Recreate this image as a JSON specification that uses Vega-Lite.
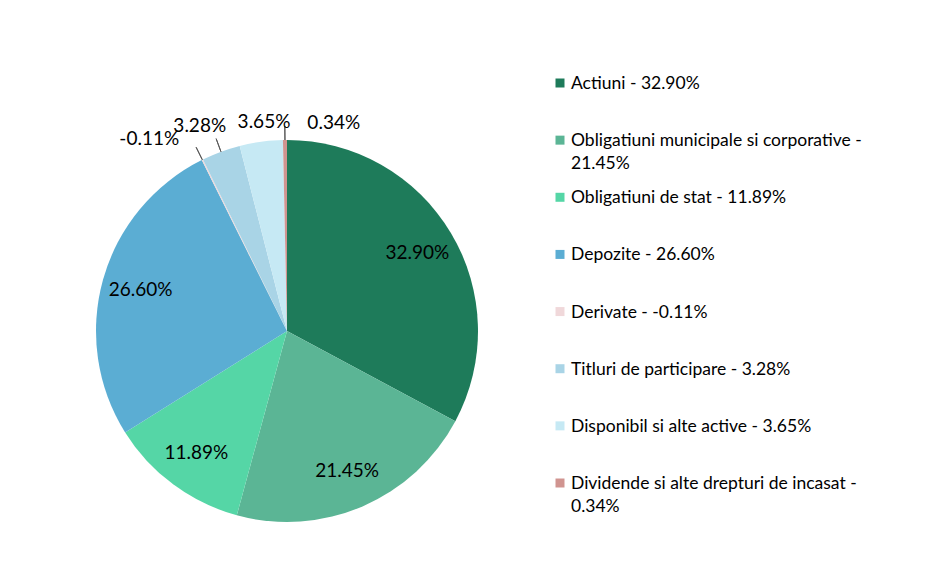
{
  "$schema": "https://vega.github.io/schema/vega-lite/v6.json",
  "padding": {"left": 47, "top": 75, "right": 0, "bottom": 0},
  "background": "white",
  "config": {"view": {"stroke": null}, "font": "Lato", "text": {"color": "#000000"}},
  "datasets": {
    "d": [
      {"order": 1, "name": "Actiuni", "value": 32.90, "size": 32.90, "label": "32.90%", "legend": "Actiuni - 32.90%"},
      {"order": 2, "name": "Obligatiuni municipale si corporative", "value": 21.45, "size": 21.45, "label": "21.45%", "legend": "Obligatiuni municipale si corporative -\n21.45%"},
      {"order": 3, "name": "Obligatiuni de stat", "value": 11.89, "size": 11.89, "label": "11.89%", "legend": "Obligatiuni de stat - 11.89%"},
      {"order": 4, "name": "Depozite", "value": 26.60, "size": 26.60, "label": "26.60%", "legend": "Depozite - 26.60%"},
      {"order": 5, "name": "Derivate", "value": -0.11, "size": 0.11, "label": "-0.11%", "legend": "Derivate - -0.11%"},
      {"order": 6, "name": "Titluri de participare", "value": 3.28, "size": 3.28, "label": "3.28%", "legend": "Titluri de participare - 3.28%"},
      {"order": 7, "name": "Disponibil si alte active", "value": 3.65, "size": 3.65, "label": "3.65%", "legend": "Disponibil si alte active - 3.65%"},
      {"order": 8, "name": "Dividende si alte drepturi de incasat", "value": 0.34, "size": 0.34, "label": "0.34%", "legend": "Dividende si alte drepturi de incasat -\n0.34%"}
    ]
  },
  "data": {"name": "d"},
  "spacing": 28,
  "hconcat": [
    {
      "width": 480,
      "height": 500,
      "encoding": {
        "theta": {"field": "size", "type": "quantitative", "stack": true},
        "order": {"field": "order", "type": "quantitative"}
      },
      "layer": [
        {
          "mark": {"type": "arc", "radius": 191},
          "encoding": {
            "color": {
              "field": "name", "type": "nominal", "legend": null,
              "scale": {
                "domain": ["Actiuni", "Obligatiuni municipale si corporative", "Obligatiuni de stat", "Depozite", "Derivate", "Titluri de participare", "Disponibil si alte active", "Dividende si alte drepturi de incasat"],
                "range": ["#1E7B5A", "#5BB595", "#55D6A6", "#5BADD3", "#F0D8DA", "#A9D4E6", "#C6E9F4", "#D09490"]
              }
            }
          }
        },
        {
          "mark": {"type": "arc", "radius": 205, "radius2": 191, "padAngle": 1.5, "fill": "transparent", "strokeWidth": 1},
          "encoding": {
            "stroke": {"condition": {"test": "datum.order == 5 || datum.order == 6 || datum.order == 8", "value": "#595959"}, "value": "transparent"}
          }
        },
        {
          "mark": {"type": "text", "fontSize": 19, "align": "center", "baseline": "middle", "radius": 152},
          "encoding": {"text": {"condition": {"test": "datum.size > 5", "field": "label"}, "value": ""}}
        },
        {
          "mark": {"type": "text", "fontSize": 19, "align": "center", "baseline": "middle", "radius": 236, "thetaOffset": -0.164},
          "encoding": {"text": {"condition": {"test": "datum.order == 5", "field": "label"}, "value": ""}}
        },
        {
          "mark": {"type": "text", "fontSize": 19, "align": "center", "baseline": "middle", "radius": 223, "thetaOffset": -0.049},
          "encoding": {"text": {"condition": {"test": "datum.order == 6", "field": "label"}, "value": ""}}
        },
        {
          "mark": {"type": "text", "fontSize": 19, "align": "center", "baseline": "middle", "radius": 210, "thetaOffset": 0.026},
          "encoding": {"text": {"condition": {"test": "datum.order == 7", "field": "label"}, "value": ""}}
        },
        {
          "mark": {"type": "text", "fontSize": 19, "align": "center", "baseline": "middle", "radius": 213, "thetaOffset": 0.232},
          "encoding": {"text": {"condition": {"test": "datum.order == 8", "field": "label"}, "value": ""}}
        }
      ]
    },
    {
      "width": 330,
      "height": 404,
      "encoding": {
        "y": {"field": "name", "type": "nominal", "sort": {"field": "order", "op": "min"}, "scale": {"type": "point", "padding": 0.035}, "axis": null},
        "x": {"datum": 0, "type": "quantitative", "scale": {"domain": [0, 1]}, "axis": null}
      },
      "layer": [
        {
          "mark": {"type": "square", "size": 81, "opacity": 1, "filled": true},
          "encoding": {
            "color": {
              "field": "name", "type": "nominal", "legend": null,
              "scale": {
                "domain": ["Actiuni", "Obligatiuni municipale si corporative", "Obligatiuni de stat", "Depozite", "Derivate", "Titluri de participare", "Disponibil si alte active", "Dividende si alte drepturi de incasat"],
                "range": ["#1E7B5A", "#5BB595", "#55D6A6", "#5BADD3", "#F0D8DA", "#A9D4E6", "#C6E9F4", "#D09490"]
              }
            }
          }
        },
        {
          "mark": {"type": "text", "align": "left", "baseline": "alphabetic", "dx": 11, "dy": 6, "fontSize": 17.5, "lineBreak": "\n", "lineHeight": 23},
          "encoding": {"text": {"field": "legend"}}
        }
      ]
    }
  ]
}
